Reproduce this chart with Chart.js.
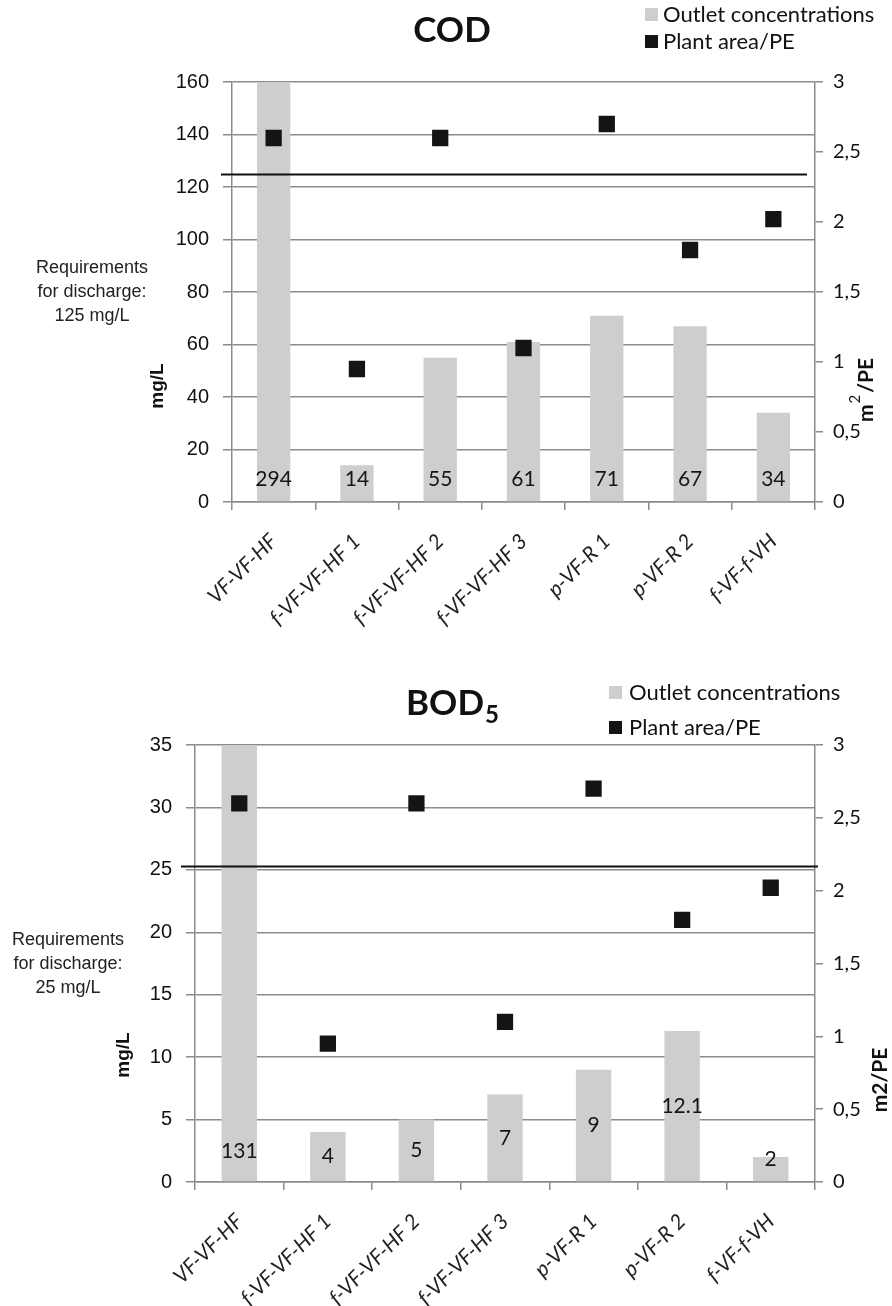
<!DOCTYPE html>
<html><head><meta charset="utf-8">
<script src="https://cdn.jsdelivr.net/npm/chart.js@4.4.1/dist/chart.umd.min.js"></script>
<style>
html,body{margin:0;padding:0;background:#fff;width:892px;height:1306px;overflow:hidden}
canvas{position:absolute;left:0}
</style></head>
<body>
<canvas id="c1" width="892" height="660" style="top:0;width:892px;height:660px"></canvas>
<canvas id="c2" width="892" height="646" style="top:660px;width:892px;height:646px"></canvas>
<script>
// ---------- data ----------
const categories = ['VF-VF-HF','f-VF-VF-HF 1','f-VF-VF-HF 2','f-VF-VF-HF 3','p-VF-R 1','p-VF-R 2','f-VF-f-VH'];
const codOutlet = [294, 14, 55, 61, 71, 67, 34];
const bodOutlet = [131, 4, 5, 7, 9, 12.1, 2];
const plantAreaPE = [2.6, 0.95, 2.6, 1.1, 2.7, 1.8, 2.02];
const codLimit = 125;
const bodLimit = 25.3;   // line as drawn in the figure (requirement 25 mg/L)
const codAxis = {min: 0, max: 160, step: 20};
const bodAxis = {min: 0, max: 35, step: 5};
const areaAxis = {min: 0, max: 3, step: 0.5};
const areaTickLabels = ['0', '0,5', '1', '1,5', '2', '2,5', '3'];
const legendLabels = ['Outlet concentrations', 'Plant area/PE'];
const codReqText = ['Requirements', 'for discharge:', '125 mg/L'];
const bodReqText = ['Requirements', 'for discharge:', '25 mg/L'];

// ---------- styles ----------
const SANS = '"Liberation Sans", Arial, sans-serif';
const CAL = 'Lato, "Open Sans", sans-serif';
const GRID = '#8b8b8b';
const BAR = '#cdcfce';
const MARK = '#141414';

const overlay = {
  id: 'overlay',
  afterDraw(chart, args, o) {
    const ctx = chart.ctx;
    const ys = chart.scales.y;
    const ca = chart.chartArea;
    ctx.save();
    // requirement line
    const ly = Math.round(ys.getPixelForValue(o.limit)) + 0.5;
    ctx.strokeStyle = '#111'; ctx.lineWidth = 2;
    ctx.beginPath(); ctx.moveTo(ca.left - o.lineExtL, ly); ctx.lineTo(ca.right + o.lineExtR, ly); ctx.stroke();

    // data labels
    const meta = chart.getDatasetMeta(0);
    ctx.fillStyle = '#151515';
    ctx.font = '21px ' + CAL;
    ctx.textAlign = 'center'; ctx.textBaseline = 'middle';
    meta.data.forEach((el, i) => {
      const v = chart.data.datasets[0].data[i];
      const base = el.base;
      let cy;
      if (o.labelMode === 'base') cy = base - 22;
      else if (v > ys.max) cy = base - 30;
      else cy = Math.min(base - 22, (el.y + base) / 2);
      ctx.fillText(String(v), el.x, cy);
    });

    // title
    ctx.fillStyle = '#111';
    ctx.textBaseline = 'alphabetic';
    ctx.font = 'bold 35px ' + CAL;
    if (o.titleSub) {
      const w1 = ctx.measureText(o.title).width;
      ctx.font = 'bold 24px ' + CAL;
      const w2 = ctx.measureText(o.titleSub).width;
      const x0 = o.titleX - (w1 + w2) / 2;
      ctx.textAlign = 'left';
      ctx.font = 'bold 35px ' + CAL;
      ctx.fillText(o.title, x0, o.titleY);
      ctx.font = 'bold 24px ' + CAL;
      ctx.fillText(o.titleSub, x0 + w1 + 1, o.titleY + 8);
    } else {
      ctx.textAlign = 'center';
      ctx.fillText(o.title, o.titleX, o.titleY);
    }

    // legend
    ctx.textAlign = 'left'; ctx.textBaseline = 'middle';
    ctx.font = '22px ' + CAL;
    const cols = [BAR, MARK];
    legendLabels.forEach((t, i) => {
      const y = o.legendRows[i];
      ctx.fillStyle = cols[i];
      ctx.fillRect(o.legendSqX, y - 7, 13, 13);
      ctx.fillStyle = '#111';
      ctx.fillText(t, o.legendTextX, y);
    });

    // requirement text
    ctx.textAlign = 'center'; ctx.textBaseline = 'middle';
    ctx.font = '18px ' + SANS;
    ctx.fillStyle = '#222';
    o.reqText.forEach((t, i) => ctx.fillText(t, o.reqX, o.reqY + i * 24));

    // left axis title
    ctx.save();
    ctx.translate(o.yTitleX, o.yTitleY); ctx.rotate(-Math.PI / 2);
    ctx.font = 'bold 19px ' + SANS; ctx.fillStyle = '#111';
    ctx.textAlign = 'center'; ctx.textBaseline = 'middle';
    ctx.fillText('mg/L', 0, 0);
    ctx.restore();

    // right axis title
    ctx.save();
    ctx.translate(o.y1TitleX, o.y1TitleY); ctx.rotate(-Math.PI / 2);
    ctx.fillStyle = '#111'; ctx.textBaseline = 'alphabetic'; ctx.textAlign = 'left';
    ctx.font = 'bold 21px ' + CAL;
    if (o.superscript) {
      const wm = ctx.measureText('m').width;
      const wr = ctx.measureText('/PE').width;
      ctx.font = '15px ' + CAL;
      const w2 = ctx.measureText('2').width;
      const tot = wm + w2 + 3 + wr;
      let x = -tot / 2;
      ctx.font = 'bold 21px ' + CAL;
      ctx.fillText('m', x, 7); x += wm + 1;
      ctx.font = '15px ' + CAL;
      ctx.fillText('2', x, -6); x += w2 + 2;
      ctx.font = 'bold 21px ' + CAL;
      ctx.fillText('/PE', x, 7);
    } else {
      ctx.textAlign = 'center';
      ctx.fillText('m2/PE', 0, 7);
    }
    ctx.restore();
    ctx.restore();
  }
};

function buildChart(id, H, outlet, axis, area, ov) {
  const W = 892;
  return new Chart(document.getElementById(id), {
    type: 'bar',
    data: {
      labels: categories,
      datasets: [
        {type: 'bar', label: legendLabels[0], data: outlet, yAxisID: 'y',
         backgroundColor: BAR, borderWidth: 0, barPercentage: 0.4, categoryPercentage: 1, order: 2},
        {type: 'line', label: legendLabels[1], data: plantAreaPE, yAxisID: 'y1', showLine: false,
         pointStyle: 'rect', pointRadius: 11.5, pointHoverRadius: 11.5,
         pointBackgroundColor: MARK, pointBorderColor: MARK, pointBorderWidth: 0, order: 1}
      ]
    },
    options: {
      responsive: false, animation: false, devicePixelRatio: 1,
      layout: {padding: {top: area.top, left: 0, right: 0, bottom: 0}},
      plugins: {legend: {display: false}, tooltip: {enabled: false}, overlay: ov},
      scales: {
        x: {
          type: 'category', offset: true,
          grid: {display: true, offset: true, drawOnChartArea: false, drawTicks: true, tickLength: 8, color: GRID, lineWidth: 1.5},
          border: {display: true, color: GRID, width: 1.5},
          ticks: {autoSkip: false, minRotation: 45, maxRotation: 45, padding: 19, color: '#222',
                  font: {family: CAL, style: 'italic', size: 21}},
          afterFit: s => { s.height = H - area.bottom; }
        },
        y: {
          position: 'left', min: axis.min, max: axis.max,
          grid: {color: GRID, lineWidth: 1.5, tickLength: 9, drawTicks: true},
          border: {display: true, color: GRID, width: 1.5},
          ticks: {stepSize: axis.step, padding: 14, color: '#111', font: {family: SANS, size: 20}},
          afterFit: s => { s.width = area.left; }
        },
        y1: {
          position: 'right', min: areaAxis.min, max: areaAxis.max,
          grid: {drawOnChartArea: false, drawTicks: true, tickLength: 8, color: GRID, lineWidth: 1.5},
          border: {display: true, color: GRID, width: 1.5},
          ticks: {stepSize: areaAxis.step, padding: 10, color: '#111', font: {family: CAL, size: 20},
                  callback: (v, i) => areaTickLabels[i]},
          afterFit: s => { s.width = W - area.right; }
        }
      }
    },
    plugins: [overlay]
  });
}

buildChart('c1', 660, codOutlet, codAxis, {left: 232, right: 815, top: 82, bottom: 502}, {
  limit: codLimit, lineExtL: 11, lineExtR: -8, labelMode: 'base',
  title: 'COD', titleSub: null, titleX: 452, titleY: 42,
  legendSqX: 645, legendTextX: 663, legendRows: [15, 42],
  reqText: codReqText, reqX: 92, reqY: 268,
  yTitleX: 158, yTitleY: 386, y1TitleX: 866, y1TitleY: 390, superscript: true
});

buildChart('c2', 646, bodOutlet, bodAxis, {left: 195, right: 815, top: 85, bottom: 522}, {
  limit: bodLimit, lineExtL: 14, lineExtR: 3, labelMode: 'center',
  title: 'BOD', titleSub: '5', titleX: 452, titleY: 55,
  legendSqX: 609, legendTextX: 629, legendRows: [33, 68],
  reqText: bodReqText, reqX: 68, reqY: 280,
  yTitleX: 124, yTitleY: 395, y1TitleX: 880, y1TitleY: 420, superscript: false
});
</script>
</body></html>
